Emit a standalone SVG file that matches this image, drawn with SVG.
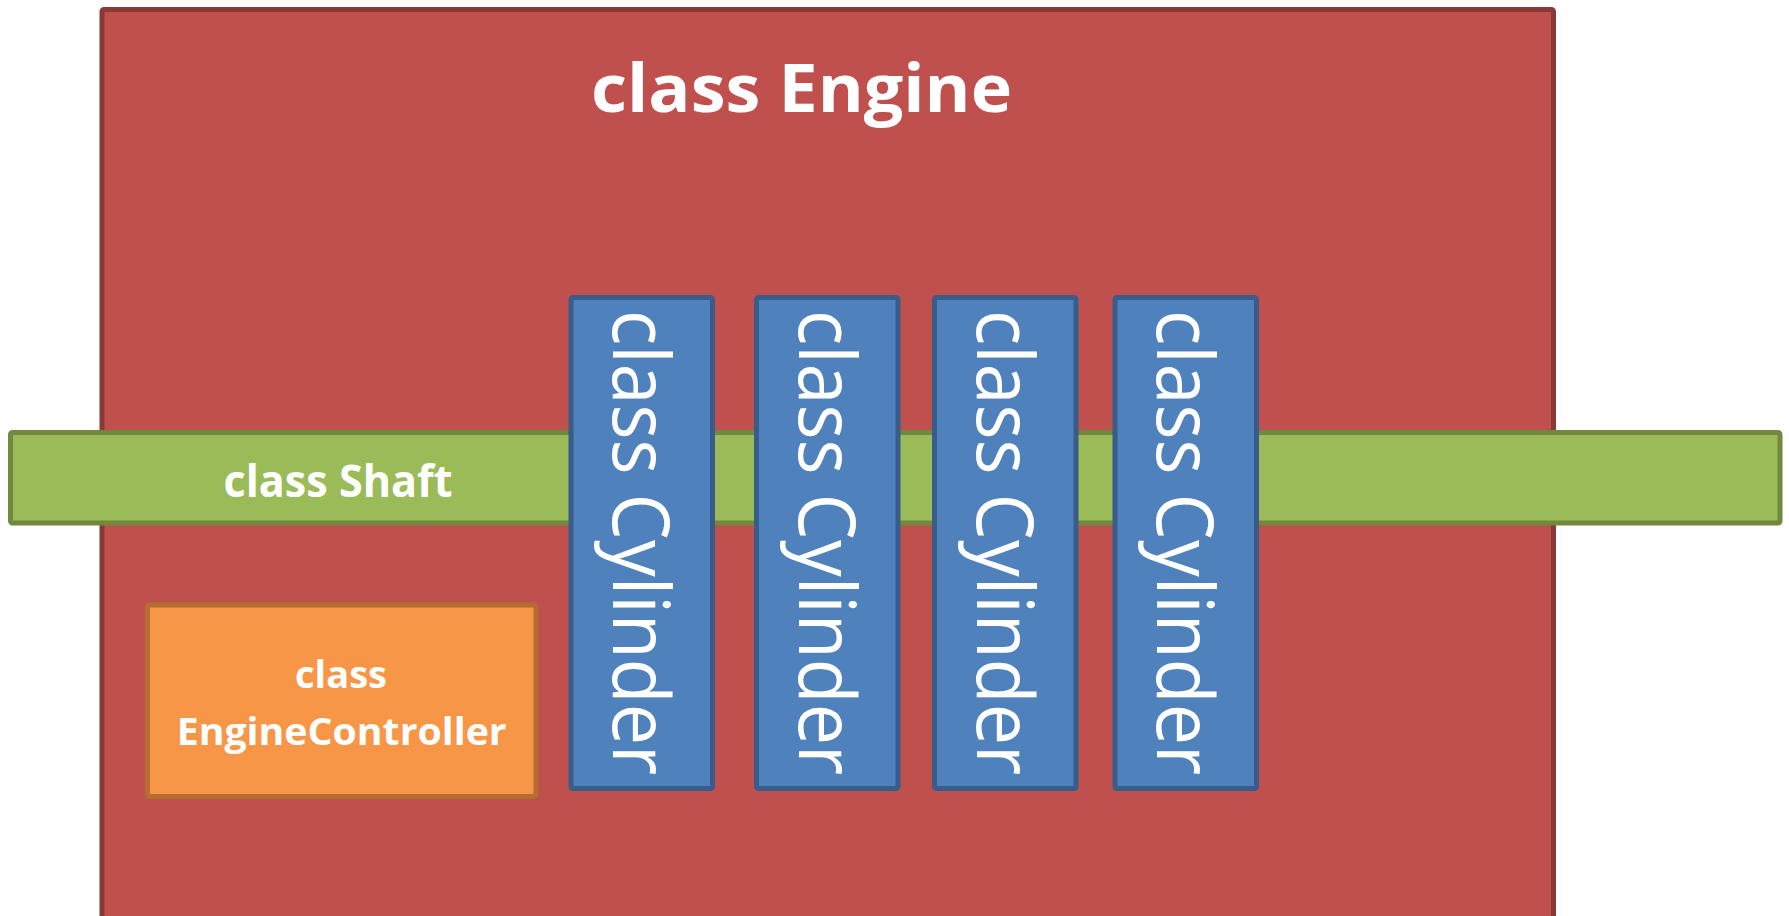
<svg xmlns="http://www.w3.org/2000/svg" width="1789" height="916" viewBox="0 0 1789 916">
<style>
.engine{fill:#c0504d;stroke:#8c3836;stroke-width:5}
.shaft{fill:#9bbb59;stroke:#71893f;stroke-width:5}
.cyl{fill:#4f81bd;stroke:#385d8a;stroke-width:5}
.ctrl{fill:#f79646;stroke:#b66d31;stroke-width:5}
.bold{font-family:"Open Sans","Liberation Sans",sans-serif;font-weight:bold;fill:#ffffff}
.reg{font-family:"Open Sans","Liberation Sans",sans-serif;font-weight:normal;fill:#ffffff;font-size:78px}
</style>
<rect width="1789" height="916" fill="#ffffff"/>
<g id="engine">
<rect class="engine" x="102" y="9.5" width="1451.5" height="909" rx="2"/>
<text class="bold" x="801.5" y="111.7" font-size="66" text-anchor="middle" textLength="421" lengthAdjust="spacingAndGlyphs">class Engine</text>
</g>
<g id="shaft">
<rect class="shaft" x="10.5" y="432.5" width="1769.5" height="90.5" rx="2"/>
<text class="bold" x="338" y="496.7" font-size="44" text-anchor="middle" textLength="229" lengthAdjust="spacingAndGlyphs">class Shaft</text>
</g>
<g id="cylinder1">
<rect class="cyl" x="571" y="297.5" width="141.5" height="491" rx="2"/>
<text class="reg" transform="translate(613.3,310) rotate(90)" textLength="465" lengthAdjust="spacingAndGlyphs">class Cylinder</text>
</g>
<g id="cylinder2">
<rect class="cyl" x="756.5" y="297.5" width="141.5" height="491" rx="2"/>
<text class="reg" transform="translate(798.8,310) rotate(90)" textLength="465" lengthAdjust="spacingAndGlyphs">class Cylinder</text>
</g>
<g id="cylinder3">
<rect class="cyl" x="934.5" y="297.5" width="141.5" height="491" rx="2"/>
<text class="reg" transform="translate(976.8,310) rotate(90)" textLength="465" lengthAdjust="spacingAndGlyphs">class Cylinder</text>
</g>
<g id="cylinder4">
<rect class="cyl" x="1115" y="297.5" width="141.5" height="491" rx="2"/>
<text class="reg" transform="translate(1157,310) rotate(90)" textLength="465" lengthAdjust="spacingAndGlyphs">class Cylinder</text>
</g>
<g id="enginecontroller">
<rect class="ctrl" x="147.5" y="605" width="388.5" height="191.5" rx="2"/>
<text class="bold" x="341" y="688.3" font-size="37" text-anchor="middle" textLength="92" lengthAdjust="spacingAndGlyphs">class</text>
<text class="bold" x="341.7" y="745" font-size="37" text-anchor="middle" textLength="330" lengthAdjust="spacingAndGlyphs">EngineController</text>
</g>
<g id="connectors"></g>
</svg>
